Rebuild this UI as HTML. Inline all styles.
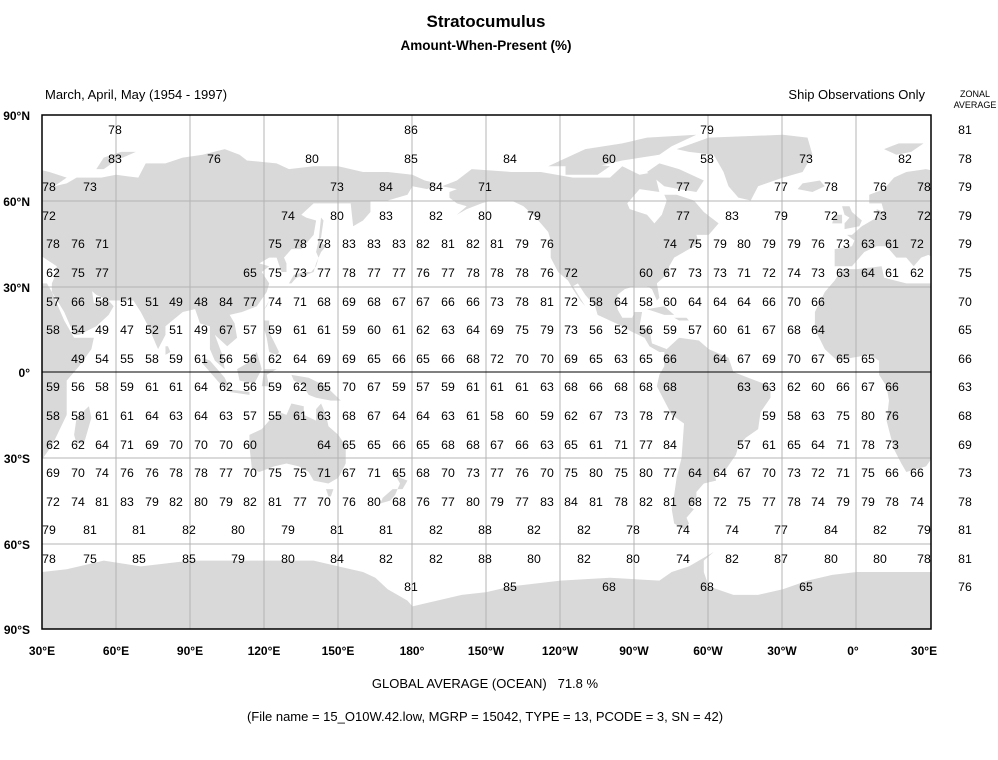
<!DOCTYPE html>
<html><head><meta charset="utf-8"><style>
body{margin:0;background:#fff}
svg{display:block;font-family:"Liberation Sans",Arial,sans-serif}
.n text{font-size:12.3px;text-anchor:middle;fill:#000}
</style></head><body>
<svg width="998" height="760" viewBox="0 0 998 760" xmlns="http://www.w3.org/2000/svg">
<defs><clipPath id="cp"><rect x="42" y="115" width="889" height="514"/></clipPath></defs>
<rect width="998" height="760" fill="#fff"/>
<g clip-path="url(#cp)">
<g transform="translate(42,372) scale(2.4694,-2.858) translate(-30,0)" fill="#d9d9d9">
<g id="land">
<polygon points="-17,15 -17,21 -13,28 -9,32 -6,36 0,36 10,37 11,33 20,31 30,31 32,31 34,28 39,18 43,12 51,12 50,8 45,2 40,-3 40,-10 40,-15 35,-24 33,-27 28,-33 20,-35 18,-32 15,-27 12,-17 13,-10 12,-5 9,-1 9,4 5,6 -2,5 -8,4 -13,8"/>
<polygon points="-9,43 -9,37 -2,37 3,42 8,44 12,44 16,40 18,40 20,40 23,37 26,40 29,41 36,37 35,33 34,31 34,28 39,21 43,13 45,13 52,16 57,20 59,23 56,26 51,24 50,30 48,30 52,27 57,25 61,25 67,25 70,21 73,16 77,8 80,13 80,16 87,21 92,22 94,17 98,16 98,8 100,4 104,1 103,6 100,13 105,9 109,12 108,17 106,20 111,21 117,23 121,28 122,31 119,35 122,37 118,38 122,40 125,40 127,35 129,35 129,38 128,40 131,43 135,43 140,48 141,53 137,54 135,55 140,59 148,59 155,59 156,51 160,53 163,56 163,60 170,60 178,62 180,65 180,69 170,70 160,70 150,72 140,72 130,71 125,73 113,74 110,76 104,78 95,76 87,75 80,73 72,73 69,68 60,69 54,68 44,68 40,66 35,65 40,68 33,70 28,71 20,70 15,68 11,64 5,62 5,59 10,59 11,56 8,57 8,54 4,52 2,51 -2,48 -4,48 -1,46 -2,44"/>
<polygon points="-180,69 -175,67 -170,66 -174,64 -180,65"/>
<polygon points="-5,50 1,51 2,53 -2,56 -3,58 -6,58 -5,55 -3,54 -5,52"/>
<polygon points="-10,52 -6,52 -6,55 -9,55"/>
<polygon points="-24,64 -22,66 -15,67 -13,65 -18,63"/>
<polygon points="-73,78 -60,82 -30,83 -20,82 -18,76 -22,70 -30,68 -40,65 -43,60 -48,61 -52,65 -54,70 -58,76 -68,77"/>
<polygon points="11,78 17,80 27,80 22,77 16,76"/>
<polygon points="52,71 55,75 62,77 68,77 60,74 55,71"/>
<polygon points="130,31 132,34 136,35 139,35 141,37 142,40 141,42 142,46 145,44 143,42 141,38 140,35 137,34 133,33 131,31"/>
<polygon points="142,46 143,54 144,53 143,47"/>
<polygon points="-168,65 -162,67 -156,71 -140,70 -128,70 -115,68 -100,68 -95,72 -88,69 -82,70 -80,63 -88,64 -93,59 -92,57 -85,55 -82,52 -79,55 -77,60 -78,62 -73,62 -66,60 -64,58 -62,56 -56,52 -60,48 -65,48 -64,45 -66,44 -70,42 -74,40 -76,37 -76,35 -81,31 -80,26 -81,25 -83,29 -85,30 -90,30 -94,29 -97,27 -97,22 -95,19 -91,19 -90,21 -87,21 -88,16 -84,15 -83,10 -80,9 -77,8 -78,7 -80,7 -84,9 -86,12 -91,14 -95,16 -105,20 -106,23 -110,27 -113,31 -115,30 -110,23 -112,25 -115,29 -117,32 -121,35 -124,40 -124,46 -125,49 -130,54 -135,58 -140,60 -148,60 -152,59 -158,57 -162,55 -158,58 -162,59 -165,61 -165,63 -162,64"/>
<polygon points="-80,73 -72,71 -62,67 -65,63 -72,64 -78,65 -85,70"/>
<polygon points="-120,74 -110,78 -95,80 -85,82 -65,83 -75,79 -80,76 -95,74 -105,72 -115,72 -125,72"/>
<polygon points="-118,69 -105,69 -100,72 -110,73 -118,72"/>
<polygon points="-85,22 -78,23 -74,20 -78,20"/>
<polygon points="-74,19 -69,19 -68,18 -72,18"/>
<polygon points="-77,8 -72,12 -64,11 -60,8 -52,5 -50,0 -44,-2 -35,-5 -35,-9 -39,-14 -40,-20 -45,-23 -48,-26 -49,-29 -53,-34 -58,-35 -57,-38 -62,-39 -65,-42 -65,-45 -68,-47 -66,-48 -69,-51 -68,-53 -70,-55 -74,-53 -75,-48 -74,-43 -73,-37 -71,-30 -70,-18 -75,-15 -78,-10 -81,-5 -80,-1 -78,2 -78,7"/>
<polygon points="114,-22 114,-26 115,-34 118,-35 124,-33 129,-32 134,-33 138,-35 140,-38 146,-39 150,-37 153,-32 153,-26 150,-22 146,-19 145,-15 143,-11 141,-13 141,-17 136,-15 136,-12 131,-11 129,-15 126,-14 122,-17 119,-20"/>
<polygon points="145,-41 148,-41 147,-43.5 146,-43.5"/>
<polygon points="172,-34 175,-37 178,-38 176,-41 174,-41 175,-39 173,-36"/>
<polygon points="172,-41 174,-41 173,-43 171,-45 167,-46 168,-44"/>
<polygon points="44,-25 47,-25 50,-16 49,-12 44,-16 43,-22"/>
<polygon points="80,6 82,7 81,9 80,9"/>
<polygon points="95,5 98,4 104,-2 106,-6 102,-4 95,3"/>
<polygon points="109,1 110,-3 116,-4 119,1 117,7 113,3"/>
<polygon points="105,-6 114,-7 114,-8 106,-7"/>
<polygon points="119,-5 120,1 125,1 121,-1 122,-5"/>
<polygon points="131,-1 138,-2 145,-5 151,-10 147,-10 141,-9 138,-8 135,-4 132,-3"/>
<polygon points="120,18 122,18 122,14 126,7 125,6 122,7 121,12 120,15"/>
<polygon points="120,22 122,25 121,23"/>
<polygon points="-180,-90 180,-90 180,-82 178,-80 170,-76 165,-72 160,-70 150,-68 140,-66 120,-66 100,-66 90,-66 80,-67 70,-68 55,-66 40,-69 30,-70 10,-70 0,-70 -10,-71 -20,-73 -30,-76 -40,-78 -50,-78 -60,-75 -62,-70 -62,-66 -58,-63 -60,-64 -68,-68 -75,-70 -80,-73 -100,-72 -120,-73 -140,-75 -150,-77 -160,-78 -170,-80 -180,-82"/>
</g>
<use href="#land" x="360"/>
</g>
</g>
<g stroke="#b4b4b4" stroke-width="1">
<line x1="116" y1="115" x2="116" y2="629"/><line x1="190" y1="115" x2="190" y2="629"/><line x1="264" y1="115" x2="264" y2="629"/><line x1="338" y1="115" x2="338" y2="629"/><line x1="412" y1="115" x2="412" y2="629"/><line x1="486" y1="115" x2="486" y2="629"/><line x1="560" y1="115" x2="560" y2="629"/><line x1="634" y1="115" x2="634" y2="629"/><line x1="708" y1="115" x2="708" y2="629"/><line x1="782" y1="115" x2="782" y2="629"/><line x1="856" y1="115" x2="856" y2="629"/>
<line x1="42" y1="201" x2="931" y2="201"/><line x1="42" y1="287" x2="931" y2="287"/><line x1="42" y1="458" x2="931" y2="458"/><line x1="42" y1="544" x2="931" y2="544"/>
</g>
<line x1="42" y1="372" x2="931" y2="372" stroke="#000" stroke-width="1"/>
<rect x="42" y="115" width="889" height="514" fill="none" stroke="#000" stroke-width="1.5"/>

<text x="486" y="27" font-size="17" font-weight="bold" text-anchor="middle">Stratocumulus</text>
<text x="486" y="50" font-size="13.5" font-weight="bold" text-anchor="middle">Amount-When-Present (%)</text>
<text x="45" y="99" font-size="13">March, April, May (1954 - 1997)</text>
<text x="925" y="99" font-size="13" text-anchor="end">Ship Observations Only</text>
<text x="975" y="97" font-size="9" text-anchor="middle">ZONAL</text>
<text x="975" y="108" font-size="9" text-anchor="middle">AVERAGE</text>
<text x="485" y="688" font-size="13" text-anchor="middle">GLOBAL AVERAGE (OCEAN)&#160;&#160;&#160;71.8 %</text>
<text x="485" y="721" font-size="13" text-anchor="middle">(File name = 15_O10W.42.low, MGRP = 15042, TYPE = 13, PCODE = 3, SN = 42)</text>

<g font-size="12" font-weight="bold" text-anchor="end">
<text x="30" y="120">90°N</text><text x="30" y="206">60°N</text><text x="30" y="292">30°N</text><text x="30" y="377">0°</text><text x="30" y="463">30°S</text><text x="30" y="549">60°S</text><text x="30" y="634">90°S</text>
</g>
<g font-size="12" font-weight="bold" text-anchor="middle">
<text x="42" y="655">30°E</text><text x="116" y="655">60°E</text><text x="190" y="655">90°E</text><text x="264" y="655">120°E</text><text x="338" y="655">150°E</text><text x="412" y="655">180°</text><text x="486" y="655">150°W</text><text x="560" y="655">120°W</text><text x="634" y="655">90°W</text><text x="708" y="655">60°W</text><text x="782" y="655">30°W</text><text x="853" y="655">0°</text><text x="924" y="655">30°E</text>
</g>

<g class="n">
<text x="965" y="134">81</text><text x="965" y="163">78</text><text x="965" y="191">79</text><text x="965" y="220">79</text><text x="965" y="248">79</text><text x="965" y="277">75</text><text x="965" y="306">70</text><text x="965" y="334">65</text><text x="965" y="363">66</text><text x="965" y="391">63</text><text x="965" y="420">68</text><text x="965" y="449">69</text><text x="965" y="477">73</text><text x="965" y="506">78</text><text x="965" y="534">81</text><text x="965" y="563">81</text><text x="965" y="591">76</text>
<text x="115" y="134">78</text><text x="411" y="134">86</text><text x="707" y="134">79</text>
<text x="115" y="163">83</text><text x="214" y="163">76</text><text x="312" y="163">80</text><text x="411" y="163">85</text><text x="510" y="163">84</text><text x="609" y="163">60</text><text x="707" y="163">58</text><text x="806" y="163">73</text><text x="905" y="163">82</text>
<text x="49" y="191">78</text><text x="90" y="191">73</text><text x="337" y="191">73</text><text x="386" y="191">84</text><text x="436" y="191">84</text><text x="485" y="191">71</text><text x="683" y="191">77</text><text x="781" y="191">77</text><text x="831" y="191">78</text><text x="880" y="191">76</text><text x="924" y="191">78</text>
<text x="49" y="220">72</text><text x="288" y="220">74</text><text x="337" y="220">80</text><text x="386" y="220">83</text><text x="436" y="220">82</text><text x="485" y="220">80</text><text x="534" y="220">79</text><text x="683" y="220">77</text><text x="732" y="220">83</text><text x="781" y="220">79</text><text x="831" y="220">72</text><text x="880" y="220">73</text><text x="924" y="220">72</text>
<text x="53" y="248">78</text><text x="78" y="248">76</text><text x="102" y="248">71</text>
<text x="275" y="248">75</text><text x="300" y="248">78</text><text x="324" y="248">78</text><text x="349" y="248">83</text><text x="374" y="248">83</text><text x="399" y="248">83</text><text x="423" y="248">82</text><text x="448" y="248">81</text><text x="473" y="248">82</text><text x="497" y="248">81</text><text x="522" y="248">79</text><text x="547" y="248">76</text>
<text x="670" y="248">74</text><text x="695" y="248">75</text><text x="720" y="248">79</text><text x="744" y="248">80</text><text x="769" y="248">79</text><text x="794" y="248">79</text><text x="818" y="248">76</text><text x="843" y="248">73</text><text x="868" y="248">63</text><text x="892" y="248">61</text><text x="917" y="248">72</text>
<text x="53" y="277">62</text><text x="78" y="277">75</text><text x="102" y="277">77</text>
<text x="250" y="277">65</text><text x="275" y="277">75</text><text x="300" y="277">73</text><text x="324" y="277">77</text><text x="349" y="277">78</text><text x="374" y="277">77</text><text x="399" y="277">77</text><text x="423" y="277">76</text><text x="448" y="277">77</text><text x="473" y="277">78</text><text x="497" y="277">78</text><text x="522" y="277">78</text><text x="547" y="277">76</text><text x="571" y="277">72</text>
<text x="646" y="277">60</text><text x="670" y="277">67</text><text x="695" y="277">73</text><text x="720" y="277">73</text><text x="744" y="277">71</text><text x="769" y="277">72</text><text x="794" y="277">74</text><text x="818" y="277">73</text><text x="843" y="277">63</text><text x="868" y="277">64</text><text x="892" y="277">61</text><text x="917" y="277">62</text>
<text x="53" y="306">57</text><text x="78" y="306">66</text><text x="102" y="306">58</text><text x="127" y="306">51</text><text x="152" y="306">51</text><text x="176" y="306">49</text><text x="201" y="306">48</text><text x="226" y="306">84</text><text x="250" y="306">77</text><text x="275" y="306">74</text><text x="300" y="306">71</text><text x="324" y="306">68</text><text x="349" y="306">69</text><text x="374" y="306">68</text><text x="399" y="306">67</text><text x="423" y="306">67</text><text x="448" y="306">66</text><text x="473" y="306">66</text><text x="497" y="306">73</text><text x="522" y="306">78</text><text x="547" y="306">81</text><text x="571" y="306">72</text><text x="596" y="306">58</text><text x="621" y="306">64</text><text x="646" y="306">58</text><text x="670" y="306">60</text><text x="695" y="306">64</text><text x="720" y="306">64</text><text x="744" y="306">64</text><text x="769" y="306">66</text><text x="794" y="306">70</text><text x="818" y="306">66</text>
<text x="53" y="334">58</text><text x="78" y="334">54</text><text x="102" y="334">49</text><text x="127" y="334">47</text><text x="152" y="334">52</text><text x="176" y="334">51</text><text x="201" y="334">49</text><text x="226" y="334">67</text><text x="250" y="334">57</text><text x="275" y="334">59</text><text x="300" y="334">61</text><text x="324" y="334">61</text><text x="349" y="334">59</text><text x="374" y="334">60</text><text x="399" y="334">61</text><text x="423" y="334">62</text><text x="448" y="334">63</text><text x="473" y="334">64</text><text x="497" y="334">69</text><text x="522" y="334">75</text><text x="547" y="334">79</text><text x="571" y="334">73</text><text x="596" y="334">56</text><text x="621" y="334">52</text><text x="646" y="334">56</text><text x="670" y="334">59</text><text x="695" y="334">57</text><text x="720" y="334">60</text><text x="744" y="334">61</text><text x="769" y="334">67</text><text x="794" y="334">68</text><text x="818" y="334">64</text>
<text x="78" y="363">49</text><text x="102" y="363">54</text><text x="127" y="363">55</text><text x="152" y="363">58</text><text x="176" y="363">59</text><text x="201" y="363">61</text><text x="226" y="363">56</text><text x="250" y="363">56</text><text x="275" y="363">62</text><text x="300" y="363">64</text><text x="324" y="363">69</text><text x="349" y="363">69</text><text x="374" y="363">65</text><text x="399" y="363">66</text><text x="423" y="363">65</text><text x="448" y="363">66</text><text x="473" y="363">68</text><text x="497" y="363">72</text><text x="522" y="363">70</text><text x="547" y="363">70</text><text x="571" y="363">69</text><text x="596" y="363">65</text><text x="621" y="363">63</text><text x="646" y="363">65</text><text x="670" y="363">66</text><text x="720" y="363">64</text><text x="744" y="363">67</text><text x="769" y="363">69</text><text x="794" y="363">70</text><text x="818" y="363">67</text><text x="843" y="363">65</text><text x="868" y="363">65</text>
<text x="53" y="391">59</text><text x="78" y="391">56</text><text x="102" y="391">58</text><text x="127" y="391">59</text><text x="152" y="391">61</text><text x="176" y="391">61</text><text x="201" y="391">64</text><text x="226" y="391">62</text><text x="250" y="391">56</text><text x="275" y="391">59</text><text x="300" y="391">62</text><text x="324" y="391">65</text><text x="349" y="391">70</text><text x="374" y="391">67</text><text x="399" y="391">59</text><text x="423" y="391">57</text><text x="448" y="391">59</text><text x="473" y="391">61</text><text x="497" y="391">61</text><text x="522" y="391">61</text><text x="547" y="391">63</text><text x="571" y="391">68</text><text x="596" y="391">66</text><text x="621" y="391">68</text><text x="646" y="391">68</text><text x="670" y="391">68</text><text x="744" y="391">63</text><text x="769" y="391">63</text><text x="794" y="391">62</text><text x="818" y="391">60</text><text x="843" y="391">66</text><text x="868" y="391">67</text><text x="892" y="391">66</text>
<text x="53" y="420">58</text><text x="78" y="420">58</text><text x="102" y="420">61</text><text x="127" y="420">61</text><text x="152" y="420">64</text><text x="176" y="420">63</text><text x="201" y="420">64</text><text x="226" y="420">63</text><text x="250" y="420">57</text><text x="275" y="420">55</text><text x="300" y="420">61</text><text x="324" y="420">63</text><text x="349" y="420">68</text><text x="374" y="420">67</text><text x="399" y="420">64</text><text x="423" y="420">64</text><text x="448" y="420">63</text><text x="473" y="420">61</text><text x="497" y="420">58</text><text x="522" y="420">60</text><text x="547" y="420">59</text><text x="571" y="420">62</text><text x="596" y="420">67</text><text x="621" y="420">73</text><text x="646" y="420">78</text><text x="670" y="420">77</text><text x="769" y="420">59</text><text x="794" y="420">58</text><text x="818" y="420">63</text><text x="843" y="420">75</text><text x="868" y="420">80</text><text x="892" y="420">76</text>
<text x="53" y="449">62</text><text x="78" y="449">62</text><text x="102" y="449">64</text><text x="127" y="449">71</text><text x="152" y="449">69</text><text x="176" y="449">70</text><text x="201" y="449">70</text><text x="226" y="449">70</text><text x="250" y="449">60</text><text x="324" y="449">64</text><text x="349" y="449">65</text><text x="374" y="449">65</text><text x="399" y="449">66</text><text x="423" y="449">65</text><text x="448" y="449">68</text><text x="473" y="449">68</text><text x="497" y="449">67</text><text x="522" y="449">66</text><text x="547" y="449">63</text><text x="571" y="449">65</text><text x="596" y="449">61</text><text x="621" y="449">71</text><text x="646" y="449">77</text><text x="670" y="449">84</text><text x="744" y="449">57</text><text x="769" y="449">61</text><text x="794" y="449">65</text><text x="818" y="449">64</text><text x="843" y="449">71</text><text x="868" y="449">78</text><text x="892" y="449">73</text>
<text x="53" y="477">69</text><text x="78" y="477">70</text><text x="102" y="477">74</text><text x="127" y="477">76</text><text x="152" y="477">76</text><text x="176" y="477">78</text><text x="201" y="477">78</text><text x="226" y="477">77</text><text x="250" y="477">70</text><text x="275" y="477">75</text><text x="300" y="477">75</text><text x="324" y="477">71</text><text x="349" y="477">67</text><text x="374" y="477">71</text><text x="399" y="477">65</text><text x="423" y="477">68</text><text x="448" y="477">70</text><text x="473" y="477">73</text><text x="497" y="477">77</text><text x="522" y="477">76</text><text x="547" y="477">70</text><text x="571" y="477">75</text><text x="596" y="477">80</text><text x="621" y="477">75</text><text x="646" y="477">80</text><text x="670" y="477">77</text><text x="695" y="477">64</text><text x="720" y="477">64</text><text x="744" y="477">67</text><text x="769" y="477">70</text><text x="794" y="477">73</text><text x="818" y="477">72</text><text x="843" y="477">71</text><text x="868" y="477">75</text><text x="892" y="477">66</text><text x="917" y="477">66</text>
<text x="53" y="506">72</text><text x="78" y="506">74</text><text x="102" y="506">81</text><text x="127" y="506">83</text><text x="152" y="506">79</text><text x="176" y="506">82</text><text x="201" y="506">80</text><text x="226" y="506">79</text><text x="250" y="506">82</text><text x="275" y="506">81</text><text x="300" y="506">77</text><text x="324" y="506">70</text><text x="349" y="506">76</text><text x="374" y="506">80</text><text x="399" y="506">68</text><text x="423" y="506">76</text><text x="448" y="506">77</text><text x="473" y="506">80</text><text x="497" y="506">79</text><text x="522" y="506">77</text><text x="547" y="506">83</text><text x="571" y="506">84</text><text x="596" y="506">81</text><text x="621" y="506">78</text><text x="646" y="506">82</text><text x="670" y="506">81</text><text x="695" y="506">68</text><text x="720" y="506">72</text><text x="744" y="506">75</text><text x="769" y="506">77</text><text x="794" y="506">78</text><text x="818" y="506">74</text><text x="843" y="506">79</text><text x="868" y="506">79</text><text x="892" y="506">78</text><text x="917" y="506">74</text>
<text x="49" y="534">79</text><text x="90" y="534">81</text><text x="139" y="534">81</text><text x="189" y="534">82</text><text x="238" y="534">80</text><text x="288" y="534">79</text><text x="337" y="534">81</text><text x="386" y="534">81</text><text x="436" y="534">82</text><text x="485" y="534">88</text><text x="534" y="534">82</text><text x="584" y="534">82</text><text x="633" y="534">78</text><text x="683" y="534">74</text><text x="732" y="534">74</text><text x="781" y="534">77</text><text x="831" y="534">84</text><text x="880" y="534">82</text><text x="924" y="534">79</text>
<text x="49" y="563">78</text><text x="90" y="563">75</text><text x="139" y="563">85</text><text x="189" y="563">85</text><text x="238" y="563">79</text><text x="288" y="563">80</text><text x="337" y="563">84</text><text x="386" y="563">82</text><text x="436" y="563">82</text><text x="485" y="563">88</text><text x="534" y="563">80</text><text x="584" y="563">82</text><text x="633" y="563">80</text><text x="683" y="563">74</text><text x="732" y="563">82</text><text x="781" y="563">87</text><text x="831" y="563">80</text><text x="880" y="563">80</text><text x="924" y="563">78</text>
<text x="411" y="591">81</text><text x="510" y="591">85</text><text x="609" y="591">68</text><text x="707" y="591">68</text><text x="806" y="591">65</text>
</g>
</svg>
</body></html>
